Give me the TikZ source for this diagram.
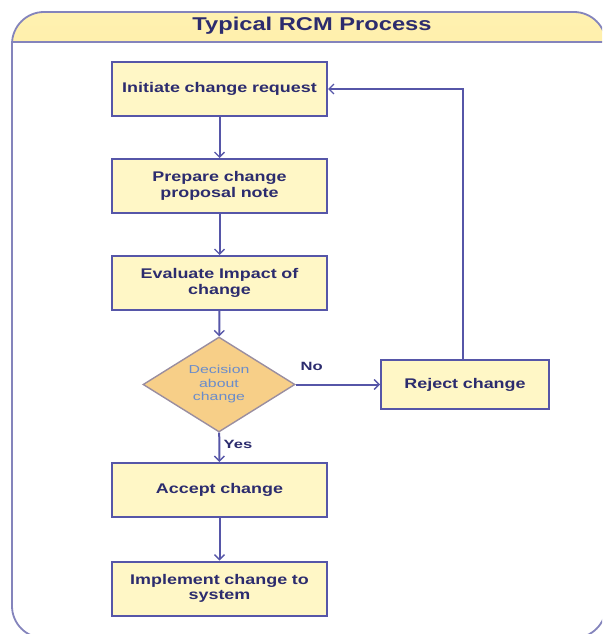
\documentclass[tikz,border=0pt]{standalone}
\usepackage{fontspec}
\setmainfont{Liberation Sans}
\newfontfamily\widefont[FakeStretch=1.28]{Liberation Sans}
\newfontfamily\diafont[FakeStretch=1.38]{Liberation Sans}
\usetikzlibrary{arrows.meta,shapes.geometric}
\definecolor{lineblue}{HTML}{5656A8}
\definecolor{boxfill}{HTML}{FFF7C6}
\definecolor{txtblue}{HTML}{2C2C6E}
\definecolor{diafill}{HTML}{F7CF88}
\definecolor{diaborder}{HTML}{9A8EA0}
\definecolor{diatxt}{HTML}{6A8CCA}
\definecolor{framecol}{HTML}{8484BC}
\definecolor{headtop}{HTML}{FFF1B0}
\definecolor{headbot}{HTML}{F8DA68}
\tikzset{
  procbox/.style={draw=lineblue, line width=2pt, fill=boxfill, minimum width=215pt, minimum height=54pt,
    text=txtblue, font=\widefont\bfseries\fontsize{14}{15.5}\selectfont, align=center, text width=210pt, inner sep=0pt},
  decbox/.style={diamond, draw=diaborder, line width=1.4pt, fill=diafill, minimum width=152pt, minimum height=95pt,
    inner sep=0pt, aspect=1.6, text=diatxt, font=\diafont\fontsize{11.5}{13.5}\selectfont, align=center},
  arr/.style={draw=lineblue, line width=2pt, -{Straight Barb[length=5pt,width=10pt,line width=1.4pt]}},
  lbl/.style={text=txtblue, font=\diafont\bfseries\fontsize{12}{14}\selectfont, inner sep=0pt}
}
\begin{document}
\begin{tikzpicture}[x=1pt,y=-1pt]
\useasboundingbox (0,0) rectangle (602,634);
\begin{scope}
  \clip (0,0) rectangle (602,634);
  \begin{scope}
    \clip (0,0) rectangle (602,42);
    \shade[top color=headtop, bottom color=headbot, rounded corners=32pt] (12,12) rectangle (606,638);
  \end{scope}
  \draw[framecol, line width=1.4pt] (12,42) -- (606,42);
  \draw[framecol, line width=1.8pt, rounded corners=32pt] (12,12) rectangle (606,638);
\end{scope}
\node[text=txtblue, font=\widefont\bfseries\fontsize{18.5}{20}\selectfont] (title) at (312,26) {Typical RCM Process};

\node[procbox] (b1) at (219.5,89) {Initiate change request};
\node[procbox] (b2) at (219.5,186) {Prepare change\\proposal note};
\node[procbox] (b3) at (219.5,283) {Evaluate Impact of\\change};
\node[decbox] (dec) at (219,384.5) {Decision\\about\\change};
\node[procbox, minimum width=168pt, minimum height=49pt, text width=160pt] (rej) at (465,384.5) {Reject change};
\node[procbox] (acc) at (219.5,490) {Accept change};
\node[procbox] (imp) at (219.5,588.5) {Implement change to\\system};

\draw[arr] (b1) -- (b2);
\draw[arr] (b2) -- (b3);
\draw[arr] (b3) -- (dec);
\draw[arr] (dec) -- (rej);
\draw[arr] (dec) -- (acc);
\draw[arr] (acc) -- (imp);
\draw[arr] ([xshift=-2pt]rej.north) |- (b1.east);
\node[lbl] (no) at ([xshift=16pt,yshift=18pt]dec.east) {No};
\node[lbl] (yes) at ([xshift=19pt,yshift=-12pt]dec.south) {Yes};
\end{tikzpicture}
\end{document}
